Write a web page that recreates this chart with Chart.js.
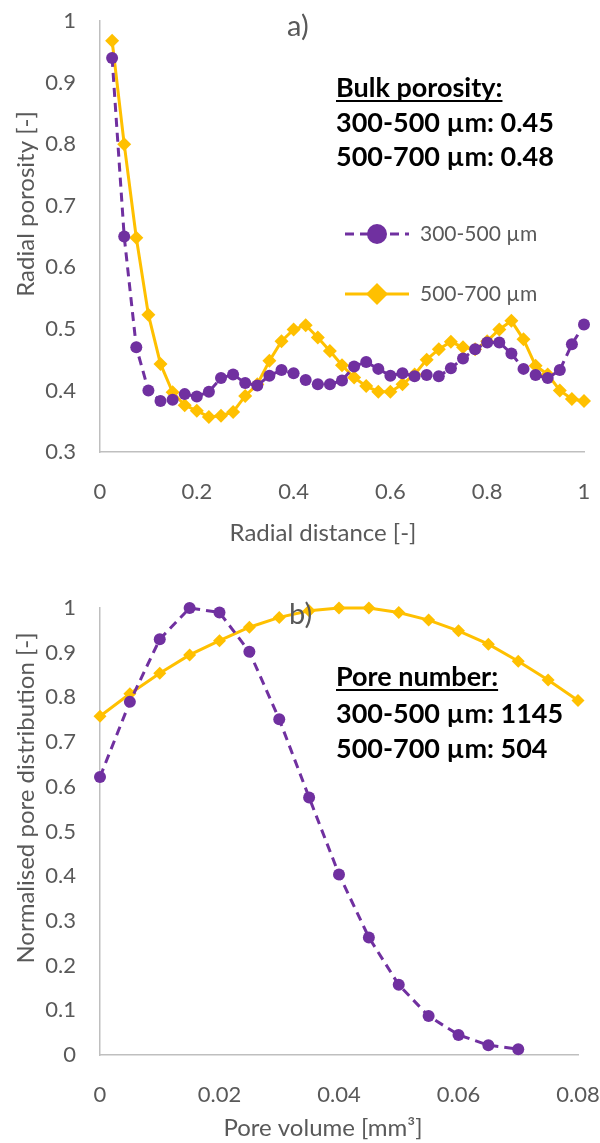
<!DOCTYPE html>
<html>
<head>
<meta charset="utf-8">
<script src="https://cdn.jsdelivr.net/npm/chart.js@4.4.1/dist/chart.umd.min.js"></script>
<style>
  html, body { margin: 0; padding: 0; background: #fff; }
  canvas { position: absolute; left: 0; }
</style>
</head>
<body>
<canvas id="chartA" width="600" height="560" style="top:0"></canvas>
<canvas id="chartB" width="600" height="583" style="top:560px"></canvas>
<script>
// --- data ---
const seriesNames = ['300-500 µm', '500-700 µm'];

const radialDistance = [0.025, 0.05, 0.075, 0.1, 0.125, 0.15, 0.175, 0.2, 0.225, 0.25,
  0.275, 0.3, 0.325, 0.35, 0.375, 0.4, 0.425, 0.45, 0.475, 0.5,
  0.525, 0.55, 0.575, 0.6, 0.625, 0.65, 0.675, 0.7, 0.725, 0.75,
  0.775, 0.8, 0.825, 0.85, 0.875, 0.9, 0.925, 0.95, 0.975, 1.0];
const porositySmall = [0.94, 0.65, 0.47, 0.40, 0.383, 0.385, 0.394, 0.390, 0.398, 0.42,
  0.426, 0.412, 0.408, 0.424, 0.433, 0.428, 0.417, 0.410, 0.410, 0.416,
  0.439, 0.446, 0.435, 0.424, 0.428, 0.423, 0.425, 0.423, 0.436, 0.452,
  0.467, 0.478, 0.478, 0.46, 0.435, 0.425, 0.42, 0.433, 0.475, 0.507];
const porosityLarge = [0.968, 0.80, 0.648, 0.523, 0.443, 0.397, 0.376, 0.367, 0.357, 0.359,
  0.365, 0.391, 0.41, 0.448, 0.48, 0.499, 0.506, 0.486, 0.464, 0.441,
  0.421, 0.407, 0.398, 0.398, 0.41, 0.426, 0.45, 0.467, 0.479, 0.47,
  0.467, 0.48, 0.499, 0.513, 0.483, 0.44, 0.426, 0.40, 0.386, 0.383];

const poreVolumeSmall = [0, 0.005, 0.01, 0.015, 0.02, 0.025, 0.03, 0.035, 0.04, 0.045,
  0.05, 0.055, 0.06, 0.065, 0.07];
const poreDistSmall = [0.622, 0.79, 0.93, 1.0, 0.99, 0.902, 0.751, 0.576, 0.404, 0.263,
  0.157, 0.087, 0.045, 0.022, 0.013];
const poreVolumeLarge = [0, 0.005, 0.01, 0.015, 0.02, 0.025, 0.03, 0.035, 0.04, 0.045,
  0.05, 0.055, 0.06, 0.065, 0.07, 0.075, 0.08];
const poreDistLarge = [0.758, 0.808, 0.854, 0.895, 0.927, 0.957, 0.979, 0.994, 1.0, 1.0,
  0.99, 0.973, 0.949, 0.919, 0.881, 0.839, 0.793];

const bulkPorosity = ['0.45', '0.48'];
const poreNumber = ['1145', '504'];

const PURPLE = '#7030a0';
const YELLOW = '#ffc000';
const GREY = '#595959';
const FONT = 'Lato, "Open Sans", sans-serif';

const pts = (xs, ys) => ys.map((y, i) => ({ x: xs[i], y: y }));

function purpleSet(data, r) {
  return {
    label: seriesNames[0], data: data,
    borderColor: PURPLE, backgroundColor: PURPLE,
    borderWidth: 3, borderDash: [9, 6],
    pointStyle: 'circle', pointRadius: r, pointBorderWidth: 0,
    clip: false
  };
}
function yellowSet(data, r) {
  return {
    label: seriesNames[1], data: data,
    borderColor: YELLOW, backgroundColor: YELLOW,
    borderWidth: 3,
    pointStyle: 'rectRot', pointRadius: r, pointBorderWidth: 0,
    clip: false
  };
}

// panel letter, axis titles, bold note block and (optionally) the legend
const notesPlugin = {
  id: 'notes',
  afterDatasetsDraw(chart, args, o) {
    const ctx = chart.ctx;
    ctx.save();
    ctx.textAlign = 'left';
    ctx.textBaseline = 'alphabetic';
    ctx.fillStyle = GREY;
    ctx.font = '29px ' + FONT;
    ctx.fillText(o.letter, o.letterX, o.letterY);

    // axis titles
    ctx.font = '24px ' + FONT;
    ctx.textAlign = 'center';
    ctx.textBaseline = 'middle';
    ctx.fillText(o.xTitle, o.xTitlePos[0], o.xTitlePos[1]);
    ctx.save();
    ctx.translate(o.yTitlePos[0], o.yTitlePos[1]);
    ctx.rotate(-Math.PI / 2);
    ctx.fillText(o.yTitle, 0, 0);
    ctx.restore();

    // bold notes
    ctx.textAlign = 'left';
    ctx.textBaseline = 'alphabetic';
    ctx.fillStyle = '#000';
    ctx.font = 'bold 27px ' + FONT;
    o.lines.forEach((t, i) => ctx.fillText(t, o.x, o.baselines[i]));
    const w = ctx.measureText(o.lines[0]).width;
    ctx.fillRect(o.x, o.baselines[0] + 3, w, 2);

    if (o.legend) {
      ctx.textBaseline = 'middle';
      chart.data.datasets.forEach((ds, i) => {
        const y = o.legend.y[i];
        const x0 = o.legend.x, x1 = o.legend.x + o.legend.len;
        ctx.strokeStyle = ds.borderColor;
        ctx.lineWidth = ds.borderWidth;
        ctx.setLineDash(ds.borderDash || []);
        ctx.beginPath(); ctx.moveTo(x0, y); ctx.lineTo(x1, y); ctx.stroke();
        ctx.setLineDash([]);
        const cx = (x0 + x1) / 2, r = o.legend.r[i];
        ctx.fillStyle = ds.backgroundColor;
        ctx.beginPath();
        if (ds.pointStyle === 'circle') {
          ctx.arc(cx, y, r, 0, Math.PI * 2);
        } else {
          ctx.moveTo(cx, y - r); ctx.lineTo(cx + r, y);
          ctx.lineTo(cx, y + r); ctx.lineTo(cx - r, y); ctx.closePath();
        }
        ctx.fill();
        ctx.fillStyle = GREY;
        ctx.font = '21px ' + FONT;
        ctx.fillText(ds.label, o.legend.textX, y);
      });
    }
    ctx.restore();
  }
};

function axis(min, max, step, isX, boxSize, tickPad) {
  return {
    type: 'linear', min: min, max: max,
    grid: { display: false, drawTicks: false },
    border: { display: true, color: '#bfbfbf', width: 1.5 },
    ticks: {
      stepSize: step, color: GREY, font: { family: FONT, size: 22 }, padding: tickPad,
      callback: v => String(Math.round(v * 1000) / 1000)
    },
    afterFit(scale) {
      // fixed box sizes so the plot area lands where the original one is
      if (isX) scale.height = boxSize; else scale.width = boxSize;
      scale.paddingLeft = 0; scale.paddingRight = 0;
      scale.paddingTop = 0; scale.paddingBottom = 0;
    }
  };
}

new Chart(document.getElementById('chartA'), {
  type: 'line',
  data: {
    datasets: [
      purpleSet(pts(radialDistance, porositySmall), 6),
      yellowSet(pts(radialDistance, porosityLarge), 7)
    ]
  },
  options: {
    responsive: false, animation: false,
    layout: { padding: { top: 21, right: 16, bottom: 0, left: 0 } },
    plugins: {
      legend: { display: false }, tooltip: { enabled: false },
      notes: {
        letter: 'a)', letterX: 287, letterY: 36,
        xTitle: 'Radial distance [-]', xTitlePos: [323, 533],
        yTitle: 'Radial porosity [-]', yTitlePos: [26, 204],
        lines: ['Bulk porosity:', seriesNames[0] + ': ' + bulkPorosity[0], seriesNames[1] + ': ' + bulkPorosity[1]],
        x: 336, baselines: [97, 132, 166],
        legend: { x: 345, len: 64, y: [234, 294], r: [10, 11], textX: 420 }
      }
    },
    scales: {
      x: axis(0, 1, 0.2, true, 108, 27),
      y: axis(0.3, 1, 0.1, false, 100, 24)
    }
  },
  plugins: [notesPlugin]
});

new Chart(document.getElementById('chartB'), {
  type: 'line',
  data: {
    datasets: [
      purpleSet(pts(poreVolumeSmall, poreDistSmall), 6),
      yellowSet(pts(poreVolumeLarge, poreDistLarge), 6.5)
    ]
  },
  options: {
    responsive: false, animation: false,
    layout: { padding: { top: 48, right: 22, bottom: 0, left: 0 } },
    plugins: {
      legend: { display: false }, tooltip: { enabled: false },
      notes: {
        letter: 'b)', letterX: 289, letterY: 64,
        xTitle: 'Pore volume [mm³]', xTitlePos: [323, 568],
        yTitle: 'Normalised pore distribution [-]', yTitlePos: [26, 238],
        lines: ['Pore number:', seriesNames[0] + ': ' + poreNumber[0], seriesNames[1] + ': ' + poreNumber[1]],
        x: 336, baselines: [126, 163, 198]
      }
    },
    scales: {
      x: axis(0, 0.08, 0.02, true, 88, 27),
      y: axis(0, 1, 0.1, false, 100, 24)
    }
  },
  plugins: [notesPlugin]
});
</script>
</body>
</html>
